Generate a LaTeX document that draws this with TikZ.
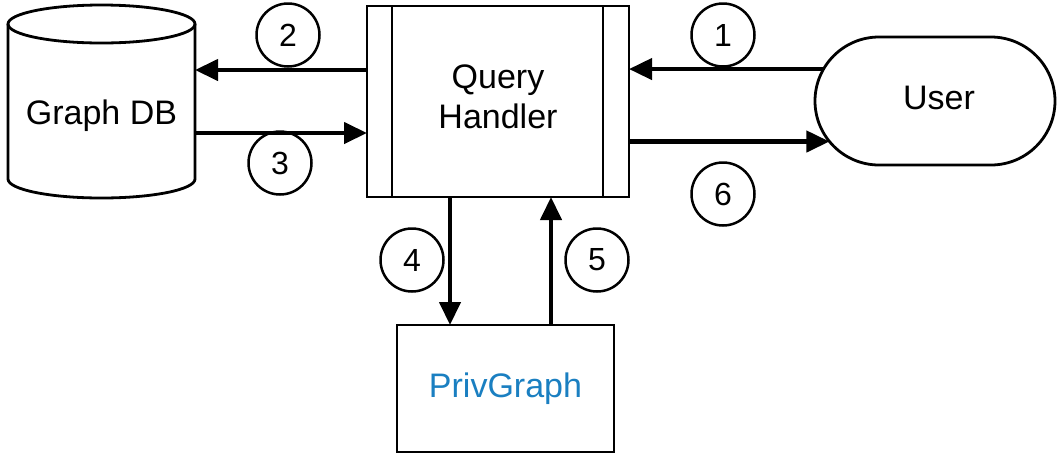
\documentclass[tikz,border=0pt]{standalone}
\usepackage{fontspec}
\setmainfont{Liberation Sans}
\usetikzlibrary{arrows.meta,shapes.misc}
\definecolor{privblue}{RGB}{26,127,193}
\tikzset{
  outline/.style={draw=black, line width=2.8pt},
  flow/.style={line width=4.2pt, -{Triangle[length=23pt,width=21pt]}},
  numcircle/.style={circle, draw=black, line width=2.5pt, minimum size=63pt,
                    inner sep=0pt, font=\fontsize{32}{32}\selectfont},
  txt/.style={font=\fontsize{34}{40}\selectfont, align=center},
  box/.style={outline, rectangle, inner sep=0pt, outer sep=0pt}
}
\begin{document}
\begin{tikzpicture}[x=1pt, y=-1pt]
\useasboundingbox (0,0) rectangle (1058,456);
\fill[white] (0,0) rectangle (1058,456);

% Graph DB cylinder
\node[inner sep=0pt, outer sep=0pt, minimum width=187pt, minimum height=193pt] (gdb) at (101.5,101.5) {};
\draw[outline] (101.5,24) ellipse [x radius=93.5, y radius=19];
\draw[outline] (8,24) -- (8,179) arc [start angle=180, end angle=0, x radius=93.5, y radius=19] -- (195,24);
\node[txt] (gdbtext) at (101.5,116) {Graph DB};

% Query handler (predefined process box)
\node[box, minimum width=262pt, minimum height=191pt] (qh) at (498,101.5) {};
\draw[outline] ([xshift=25pt]qh.north west) -- ([xshift=25pt]qh.south west);
\draw[outline] ([xshift=-26pt]qh.north east) -- ([xshift=-26pt]qh.south east);
\node[txt] (qhtext) at (498,97) {Query\\Handler};

% User terminal
\node[outline, rounded rectangle, minimum width=240pt, minimum height=128pt,
      inner sep=0pt, outer sep=0pt] (user) at (935,101) {};
\node[txt] (usertext) at (939,98) {User};

% PrivGraph box
\node[box, minimum width=217pt, minimum height=127pt, txt, text=privblue] (pg) at (505.5,388.5) {PrivGraph};

% Flows
\draw[flow] (user.164.7) -- (qh.east |- user.164.7);
\draw[flow] ([yshift=31.5pt]qh.west) -- ([yshift=31.5pt]gdb.east);
\draw[flow] ([yshift=-31.5pt]gdb.east) -- ([yshift=-31.5pt]qh.west);
\draw[flow] ([xshift=-48pt]qh.south) -- ([xshift=-48pt]qh.south |- pg.north);
\draw[flow] ([xshift=53pt]qh.south |- pg.north) -- ([xshift=53pt]qh.south);
\draw[flow] (qh.east |- user.201.8) -- (user.201.8);

% Step numbers
\node[numcircle] (n1) at (723,35) {1};
\node[numcircle] (n2) at (288,35) {2};
\node[numcircle] (n3) at (280,163) {3};
\node[numcircle] (n4) at (412,260) {4};
\node[numcircle] (n5) at (597,260) {5};
\node[numcircle] (n6) at (723,194) {6};
\end{tikzpicture}
\end{document}
